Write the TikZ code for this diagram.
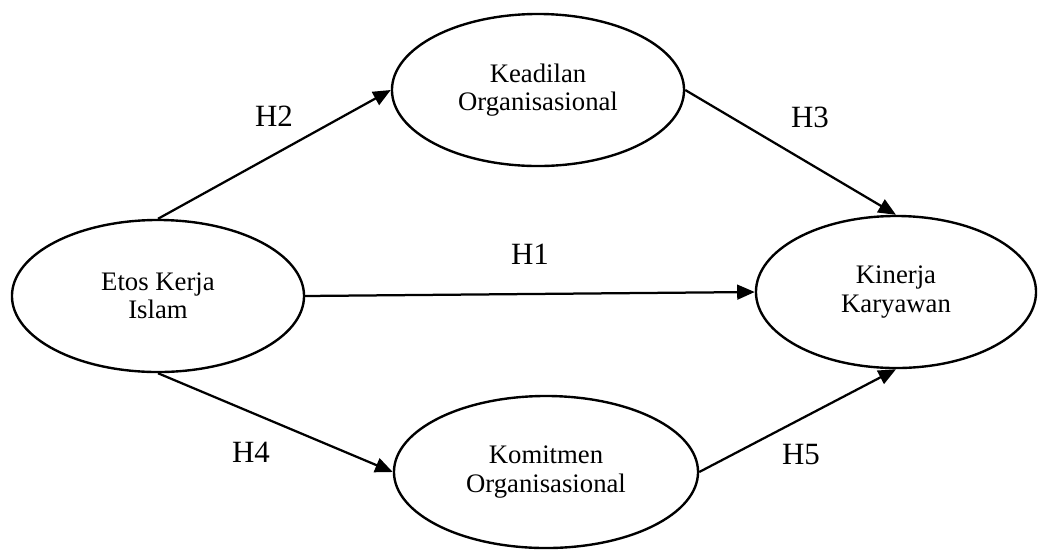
\documentclass[tikz,border=0pt]{standalone}
\usepackage{fontspec}
\setmainfont{Liberation Serif}
\usetikzlibrary{positioning,arrows.meta,shapes.geometric}

\begin{document}
\begin{tikzpicture}[x=0.025cm,y=-0.025cm,
  var/.style={ellipse,draw,line width=1.7pt,inner sep=0pt,minimum height=3.8cm,align=center,font=\fontsize{19}{20}\selectfont},
  hyp/.style={inner sep=0pt,font=\fontsize{22}{24}\selectfont},
  arr/.style={-{Triangle[length=12.5pt,width=10.5pt]},line width=1.6pt}]
  \useasboundingbox (0,0) rectangle (1039,549);
  \node[var,minimum width=7.3cm](a) at (158,296){Etos Kerja\\Islam};
  \node[var,minimum width=7.3cm](b) at (538,90){Keadilan\\Organisasional};
  \node[var,minimum width=7.0cm](c) at (896,292){Kinerja\\Karyawan};
  \node[var,minimum width=7.6cm](d) at (546,472){Komitmen\\Organisasional};
  \draw[arr](a.east)--(c.west); \draw[arr](a.north)--(b.west);
  \draw[arr](b.east)--(c.north); \draw[arr](a.south)--(d.west);
  \draw[arr](d.east)--(c.south);
  \node[hyp](h1) at (530,254){H1};
  \node[hyp](h2) at (274,116){H2};
  \node[hyp](h3) at (810,117){H3};
  \node[hyp](h4) at (251,452){H4};
  \node[hyp](h5) at (801,455){H5};
\end{tikzpicture}
\end{document}
